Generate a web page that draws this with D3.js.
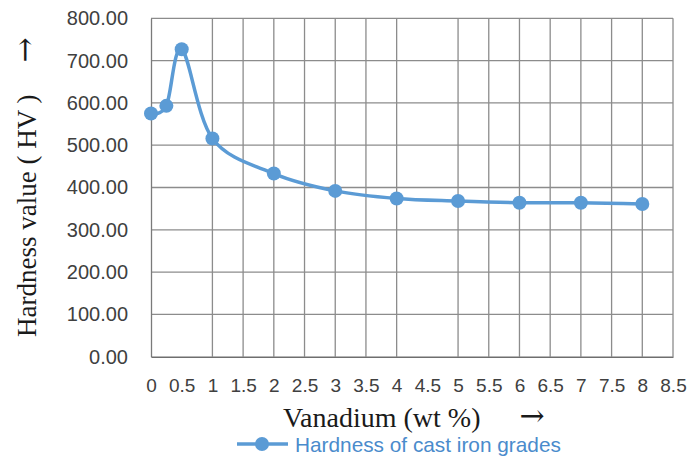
<!DOCTYPE html>
<html>
<head>
<meta charset="utf-8">
<script src="https://cdn.jsdelivr.net/npm/d3@7"></script>
<style>
	body { margin: 0; background: #fff; }
	svg { display: block; }
</style>
</head>
<body onload="onLoad()">
<div></div>
<script>
var vanadium = [0, 0.25, 0.5, 1, 2, 3, 4, 5, 6, 7, 8],
	hardness = [575, 593, 727, 516, 433, 392, 374, 368, 364, 364, 361];

var xTicks = [0, 0.5, 1, 1.5, 2, 2.5, 3, 3.5, 4, 4.5, 5, 5.5, 6, 6.5, 7, 7.5, 8, 8.5],
	xGrid = [1, 1.5, 2, 2.5, 3, 3.5, 4, 5, 5.5, 6, 6.5, 7, 7.5, 8, 8.5],
	yTicks = [0, 100, 200, 300, 400, 500, 600, 700, 800];

var seriesName = "Hardness of cast iron grades",
	xTitle = "Vanadium (wt %)",
	yTitle = "Hardness value ( HV )";

var svgContainer,
	width = 687,
	height = 459,
	plot = {
		left: 151,
		right: 673,
		top: 18.3,
		bottom: 356.7
	},
	blue = "#5b9bd5",
	gridColor = "#8c8c8c";

var xScale, yScale;

function onLoad() {

	svgContainer = d3.select("div")
	.append("svg")
	.attr("width", width)
	.attr("height", height);

	xScale = d3.scaleLinear().domain([0, 8.5]).range([plot.left, plot.right]);
	yScale = d3.scaleLinear().domain([0, 800]).range([plot.bottom, plot.top]);

	drawGrid();
	drawAxes();
	drawSeries();
	drawTitles();
	drawLegend();
}

///////////////////////////////////
////////////DRAWING////////////////
///////////////////////////////////

function drawGrid() {
	var grid = svgContainer.append("g");

	grid.selectAll(".hgrid")
	.data(yTicks.slice(1))
	.enter()
	.append("line")
	.attr("x1", plot.left)
	.attr("x2", plot.right)
	.attr("y1", d => yScale(d))
	.attr("y2", d => yScale(d))
	.attr("stroke", gridColor)
	.attr("stroke-width", 1.3);

	grid.selectAll(".vgrid")
	.data(xGrid)
	.enter()
	.append("line")
	.attr("x1", d => xScale(d))
	.attr("x2", d => xScale(d))
	.attr("y1", plot.top)
	.attr("y2", plot.bottom)
	.attr("stroke", gridColor)
	.attr("stroke-width", 1.3);
}

function drawAxes() {
	var yAxis = d3.axisLeft(yScale)
	.tickValues(yTicks)
	.tickFormat(d3.format(".2f"))
	.tickSize(0)
	.tickPadding(23);

	var yAxisGroup = svgContainer
	.append("g")
	.attr("transform", "translate(" + plot.left + ",0)")
	.call(yAxis);

	yAxisGroup.select(".domain")
	.attr("stroke", "#7a7a7a")
	.attr("stroke-width", 1.3);

	yAxisGroup.selectAll("text")
	.attr("font-family", "Liberation Sans, Arial, sans-serif")
	.attr("font-size", 20)
	.attr("fill", "#404040");

	var xAxis = d3.axisBottom(xScale)
	.tickValues(xTicks)
	.tickFormat(d => String(d))
	.tickSize(0)
	.tickPadding(22);

	var xAxisGroup = svgContainer
	.append("g")
	.attr("transform", "translate(0," + plot.bottom + ")")
	.call(xAxis);

	xAxisGroup.select(".domain")
	.attr("stroke", "#6e6e6e")
	.attr("stroke-width", 1.6);

	xAxisGroup.selectAll("text")
	.attr("font-family", "Liberation Sans, Arial, sans-serif")
	.attr("font-size", 19)
	.attr("fill", "#404040");
}

function drawSeries() {
	var points = vanadium.map((v, i) => ({x: v, y: hardness[i]}));

	var line = d3.line()
	.x(d => xScale(d.x))
	.y(d => yScale(d.y))
	.curve(d3.curveCardinal.tension(0));

	svgContainer.append("path")
	.datum(points)
	.attr("d", line)
	.attr("fill", "none")
	.attr("stroke", blue)
	.attr("stroke-width", 3.5)
	.attr("stroke-linejoin", "round");

	svgContainer.selectAll(".marker")
	.data(points)
	.enter()
	.append("circle")
	.attr("cx", d => xScale(d.x))
	.attr("cy", d => yScale(d.y))
	.attr("r", 7)
	.attr("fill", blue);
}

function drawTitles() {
	svgContainer.append("text")
	.attr("x", 283)
	.attr("y", 426.5)
	.attr("font-family", "Liberation Serif, Times New Roman, serif")
	.attr("font-size", 28)
	.attr("fill", "#1a1a1a")
	.text(xTitle);

	// arrows: DejaVu has a proper long arrow glyph
	svgContainer.append("text")
	.attr("x", 532)
	.attr("y", 426)
	.attr("text-anchor", "middle")
	.attr("font-family", "DejaVu Serif, serif")
	.attr("font-size", 30)
	.attr("fill", "#1a1a1a")
	.text("\u2192");

	svgContainer.append("text")
	.attr("transform", "translate(36,337) rotate(-90)")
	.attr("font-family", "Liberation Serif, Times New Roman, serif")
	.attr("font-size", 27)
	.attr("fill", "#1a1a1a")
	.text(yTitle);

	svgContainer.append("text")
	.attr("transform", "translate(35,50) rotate(-90)")
	.attr("text-anchor", "middle")
	.attr("font-family", "DejaVu Serif, serif")
	.attr("font-size", 30)
	.attr("fill", "#1a1a1a")
	.text("\u2192");
}

function drawLegend() {
	var legend = svgContainer.append("g");

	legend.append("line")
	.attr("x1", 237)
	.attr("x2", 288)
	.attr("y1", 444)
	.attr("y2", 444)
	.attr("stroke", blue)
	.attr("stroke-width", 3.5);

	legend.append("circle")
	.attr("cx", 262)
	.attr("cy", 444)
	.attr("r", 7)
	.attr("fill", blue);

	legend.append("text")
	.attr("x", 295)
	.attr("y", 451.5)
	.attr("font-family", "Liberation Sans, Arial, sans-serif")
	.attr("font-size", 20.8)
	.attr("fill", "#4a8bcc")
	.text(seriesName);
}
</script>
</body>
</html>
